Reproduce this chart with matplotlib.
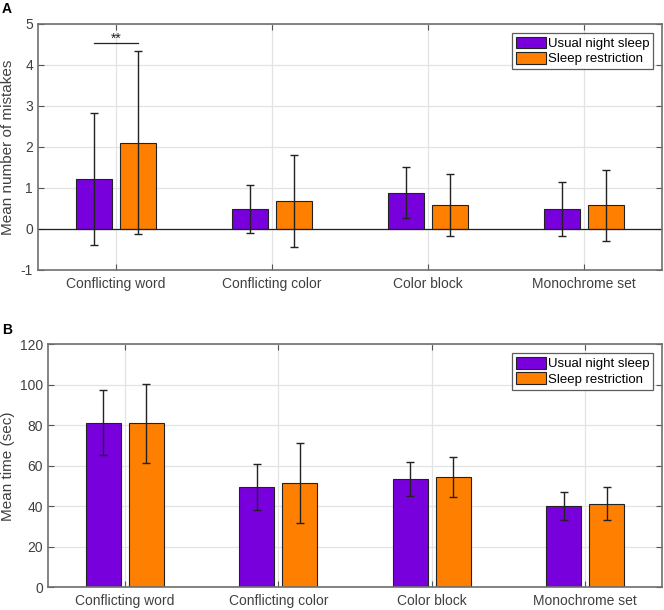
import numpy as np
import matplotlib.pyplot as plt

plt.rcParams['font.family'] = ['Liberation Sans', 'DejaVu Sans']
plt.rcParams['axes.unicode_minus'] = False

categories = ['Conflicting word', 'Conflicting color', 'Color block', 'Monochrome set']
series_names = ['Usual night sleep', 'Sleep restriction']

# panel A: mistakes
mist_usual = [1.22, 0.49, 0.88, 0.49]
mist_usual_err = [1.62, 0.59, 0.62, 0.66]
mist_restr = [2.1, 0.68, 0.58, 0.58]
mist_restr_err = [2.23, 1.12, 0.75, 0.87]

# panel B: time
time_usual = [81.3, 49.5, 53.5, 40.2]
time_usual_err = [16.2, 11.3, 8.4, 6.9]
time_restr = [80.9, 51.5, 54.5, 41.2]
time_restr_err = [19.4, 19.8, 9.9, 8.2]

purple = '#7700DD'
orange = '#FF8000'
txt = '#404040'
width = 0.23
off = 0.14


def panel(ax, a, ae, b, be, ylim, yticks, ylabel, lab_x):
    x = np.arange(1, len(categories) + 1)
    ax.set_axisbelow(True)
    ax.grid(True, color='#e3e3e3', linewidth=0.9)
    ax.bar(x - off, a, width, color=purple, edgecolor='#222222', linewidth=0.8,
           label=series_names[0], zorder=2)
    ax.bar(x + off, b, width, color=orange, edgecolor='#222222', linewidth=0.8,
           label=series_names[1], zorder=2)
    ax.errorbar(x - off, a, yerr=ae, fmt='none', ecolor='#222222', elinewidth=1,
                capsize=3, capthick=1, zorder=3)
    ax.errorbar(x + off, b, yerr=be, fmt='none', ecolor='#222222', elinewidth=1,
                capsize=3, capthick=1, zorder=3)
    ax.axhline(0, color='#222222', linewidth=0.9, zorder=2.5)
    ax.set_xlim(0.5, 4.5)
    ax.set_ylim(*ylim)
    ax.set_yticks(yticks)
    ax.set_xticks(x)
    ax.set_xticklabels(categories)
    ax.set_ylabel(ylabel, color=txt, fontsize=11)
    ax.yaxis.set_label_coords(lab_x, 0.5)
    ax.tick_params(direction='in', top=True, right=True, colors='#555555',
                   labelcolor=txt, labelsize=10, length=4)
    ax.tick_params(axis='x', pad=5)
    for s in ax.spines.values():
        s.set_color('#707070')
        s.set_linewidth(1.2)
    leg = ax.legend(loc='upper right', fontsize=9.5, frameon=True, fancybox=False,
                    edgecolor='#333333', handlelength=2.3, handleheight=1.0,
                    handletextpad=0.15, borderpad=0.3, labelspacing=0.15,
                    borderaxespad=0.65)
    leg.get_frame().set_linewidth(0.9)
    return ax


fig = plt.figure(figsize=(6.64, 6.10), dpi=100)
ax1 = fig.add_axes([0.0572, 0.5574, 0.9398, 0.4033])
panel(ax1, mist_usual, mist_usual_err, mist_restr, mist_restr_err,
      (-1, 5), [-1, 0, 1, 2, 3, 4, 5], 'Mean number of mistakes', -0.037)
# significance bracket
ax1.plot([1 - off, 1 + off], [4.54, 4.54], color='#222222', linewidth=0.9)
ax1.text(1, 4.54, '**', ha='center', va='baseline', fontsize=10, color='#222222')

ax2 = fig.add_axes([0.0723, 0.0372, 0.9247, 0.3984])
panel(ax2, time_usual, time_usual_err, time_restr, time_restr_err,
      (0, 120), [0, 20, 40, 60, 80, 100, 120], 'Mean time (sec)', -0.054)

fig.text(0.003, 0.997, 'A', fontweight='bold', fontsize=10, va='top', ha='left')
fig.text(0.003, 0.47, 'B', fontweight='bold', fontsize=10, va='top', ha='left')

fig.savefig('out.png', dpi=100)
